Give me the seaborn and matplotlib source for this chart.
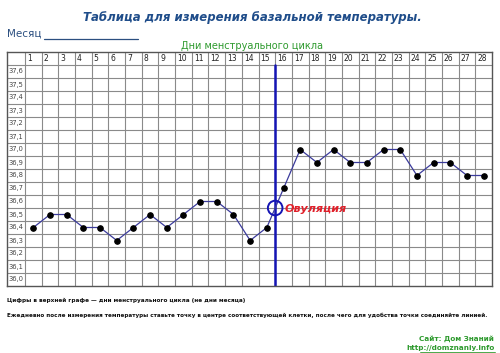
import matplotlib
matplotlib.use("Agg")
import matplotlib.pyplot as plt
import pandas as pd
import seaborn as sns

# Days of the cycle and measured basal temperature
days = list(range(1, 29))
temps = [36.4, 36.5, 36.5, 36.4, 36.4, 36.3, 36.4, 36.5, 36.4, 36.5,
         36.6, 36.6, 36.5, 36.3, 36.4, 36.7, 37.0, 36.9, 37.0, 36.9,
         36.9, 37.0, 37.0, 36.8, 36.9, 36.9, 36.8, 36.8]
row_temps = [37.6, 37.5, 37.4, 37.3, 37.2, 37.1, 37.0, 36.9, 36.8,
             36.7, 36.6, 36.5, 36.4, 36.3, 36.2, 36.1, 36.0]
ovulation_day = 15.5
ovulation_temp = 36.55

df = pd.DataFrame({"day": days, "temp": temps})

sns.set_style("white")
plt.rcParams["font.family"] = ["DejaVu Sans"]

fig = plt.figure(figsize=(5.0, 3.53), dpi=100)
ax = fig.add_axes([7 / 500, 1 - 286 / 353, 485 / 500, 234 / 353])

label_w = 18 / ((492 - 25) / 28)
x_left = 0.5 - label_w
y_top = 37.75
ax.set_xlim(x_left, 28.5)
ax.set_ylim(35.95, y_top)

grid_c = "#8a8a8a"
# vertical grid lines (cell borders)
for b in [0.5 + i for i in range(28)]:
    ax.plot([b, b], [35.95, y_top], color=grid_c, lw=0.8, zorder=1)
# horizontal grid lines
for t in row_temps:
    ax.plot([x_left, 28.5], [t + 0.05, t + 0.05], color=grid_c, lw=0.8, zorder=1)

for s in ax.spines.values():
    s.set_color("#555555")
    s.set_linewidth(1.0)
ax.set_xticks([])
ax.set_yticks([])

# header numbers
for d in days:
    ax.text(d - 0.38, 37.70, str(d), fontsize=5.5, ha="left", va="center",
            color="#222222")
# row labels
for t in row_temps:
    ax.text(x_left + 0.1, t, f"{t:.1f}".replace(".", ","), fontsize=4.9,
            ha="left", va="center", color="#444444")

# ovulation line
ax.plot([ovulation_day, ovulation_day], [35.95, 37.65], color="#1414b4",
        lw=1.8, zorder=2)

sns.lineplot(data=df, x="day", y="temp", ax=ax, color="#3b3b9c", lw=0.9,
             marker="o", markersize=4, markerfacecolor="black",
             markeredgecolor="black", zorder=3)
ax.set_xlabel("")
ax.set_ylabel("")

ax.scatter([ovulation_day], [ovulation_temp], s=110, facecolors="none",
           edgecolors="#1414b4", linewidths=1.4, zorder=4)
ax.text(ovulation_day + 0.55, ovulation_temp - 0.01, "Овуляция", color="#e0202a",
        fontsize=8, fontweight="bold", fontstyle="italic", ha="left",
        va="center", zorder=5)

# titles and texts around the table
fig.text(252 / 500, 1 - 17 / 353, "Таблица для измерения базальной температуры.",
         ha="center", va="center", fontsize=8.5, fontstyle="italic",
         fontweight="bold", color="#1f4d8a")
fig.text(7 / 500, 1 - 34 / 353, "Месяц", ha="left", va="center", fontsize=7.5,
         color="#2b4f80")
fig.add_artist(plt.Line2D([44 / 500, 138 / 500], [1 - 39 / 353, 1 - 39 / 353],
                          color="#2b4f80", lw=0.9))
fig.text(252 / 500, 1 - 46 / 353, "Дни менструального цикла", ha="center",
         va="center", fontsize=7, color="#2e9a2e")

fig.text(7 / 500, 1 - 300 / 353,
         "Цифры в верхней графе — дни менструального цикла (не дни месяца)",
         ha="left", va="center", fontsize=4.15, fontweight="bold",
         color="#111111")
fig.text(7 / 500, 1 - 315 / 353,
         "Ежедневно после измерения температуры ставьте точку в центре "
         "соответствующей клетки, после чего для удобства точки соединяйте линией.",
         ha="left", va="center", fontsize=4.05, fontweight="bold",
         color="#111111")
fig.text(494 / 500, 1 - 339 / 353, "Сайт: Дом Знаний", ha="right", va="center",
         fontsize=5.2, fontweight="bold", color="#2e9a2e")
fig.text(495 / 500, 1 - 348 / 353, "http://domznaniy.info", ha="right",
         va="center", fontsize=5.2, fontweight="bold", color="#2e9a2e")
fig.add_artist(plt.Line2D([420 / 500, 495 / 500], [0.004, 0.004],
                          color="#2e9a2e", lw=0.6))

fig.savefig("out.png", dpi=100, facecolor="white")
